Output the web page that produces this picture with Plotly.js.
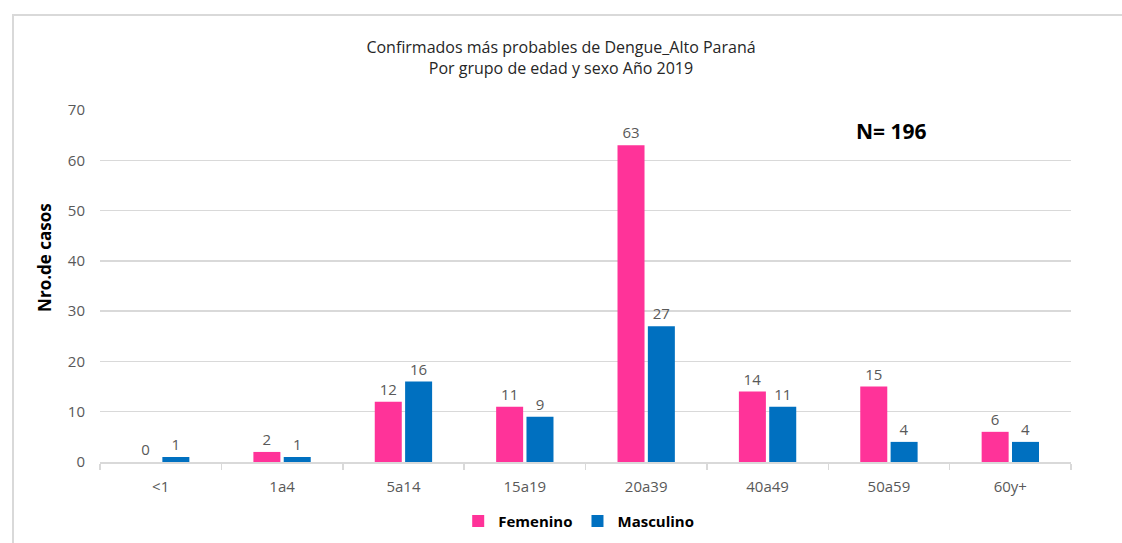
<!DOCTYPE html>
<html><head><meta charset="utf-8">
<script src="https://cdn.plot.ly/plotly-3.0.1.min.js"></script>
<style>
html,body{margin:0;padding:0;background:#fff;}
#wrap{position:relative;width:1122px;height:543px;overflow:hidden;}
#frame{position:absolute;left:12px;top:14px;width:1200px;height:600px;border-left:2px solid #d9d9d9;border-top:2px solid #d9d9d9;pointer-events:none;}
#chart{position:absolute;left:0;top:0;width:1122px;height:543px;}
</style></head>
<body><div id="wrap"><div id="chart"></div><div id="frame"></div></div>
<script>
const categories = ["<1","1a4","5a14","15a19","20a39","40a49","50a59","60y+"];
const femenino = [0,2,12,11,63,14,15,6];
const masculino = [1,1,16,9,27,11,4,4];
const yTicks = [0,10,20,30,40,50,60,70];
const font = "Open Sans, Liberation Sans, sans-serif";
const labelFont = {family: font, size: 15, color: "#595959"};
const traces = [
  {type:"bar", name:"Femenino", x:categories, y:femenino, marker:{color:"#FF3399"},
   text:femenino.map(String), textposition:"outside", cliponaxis:false, textfont:labelFont},
  {type:"bar", name:"Masculino", x:categories, y:masculino, marker:{color:"#0070C0"},
   text:masculino.map(String), textposition:"outside", cliponaxis:false, textfont:labelFont}
];
const layout = {
  width:1122, height:543,
  margin:{l:100, r:51, t:110, b:81},
  paper_bgcolor:"rgba(0,0,0,0)", plot_bgcolor:"#fff",
  barmode:"group", bargap:0.5, bargroupgap:0.11,
  title:{text:"Confirmados más probables de Dengue_Alto Paraná<br>Por grupo de edad y sexo Año 2019",
    font:{family:font, size:16, color:"#262626"}, x:0.5, xanchor:"center", y:0.902, yanchor:"top"},
  xaxis:{type:"category", tickson:"boundaries", ticks:"outside", ticklen:6, tickcolor:"#d9d9d9", tickwidth:1.5,
    showline:true, linecolor:"#d9d9d9", linewidth:1.5, showgrid:false,
    tickfont:labelFont, ticklabelstandoff:10, fixedrange:true},
  yaxis:{range:[0,70], tickvals:yTicks, ticktext:yTicks.map(String), showgrid:true, gridcolor:"#d9d9d9",
    gridwidth:1.5, zeroline:false, showline:false, tickfont:labelFont, ticklabelstandoff:14},
  legend:{orientation:"h", x:0.493, xanchor:"center", yref:"container", y:0.04, yanchor:"middle",
    font:{family:font, size:15, color:"#000", weight:"bold"}, itemwidth:30},
  annotations:[
    {text:"<b>N= 196</b>", xref:"paper", yref:"paper", x:0.815, y:0.94, xanchor:"center", yanchor:"middle",
     showarrow:false, font:{family:font, size:21, color:"#000"}},
    {text:"<b>Nro.de casos</b>", xref:"paper", yref:"paper", x:-0.0566, y:0.58, xanchor:"center", yanchor:"middle",
     textangle:-90, showarrow:false, font:{family:font, size:17, color:"#000"}}
  ],
  showlegend:true
};
Plotly.newPlot("chart", traces, layout, {displayModeBar:false, staticPlot:true});
</script></body></html>
